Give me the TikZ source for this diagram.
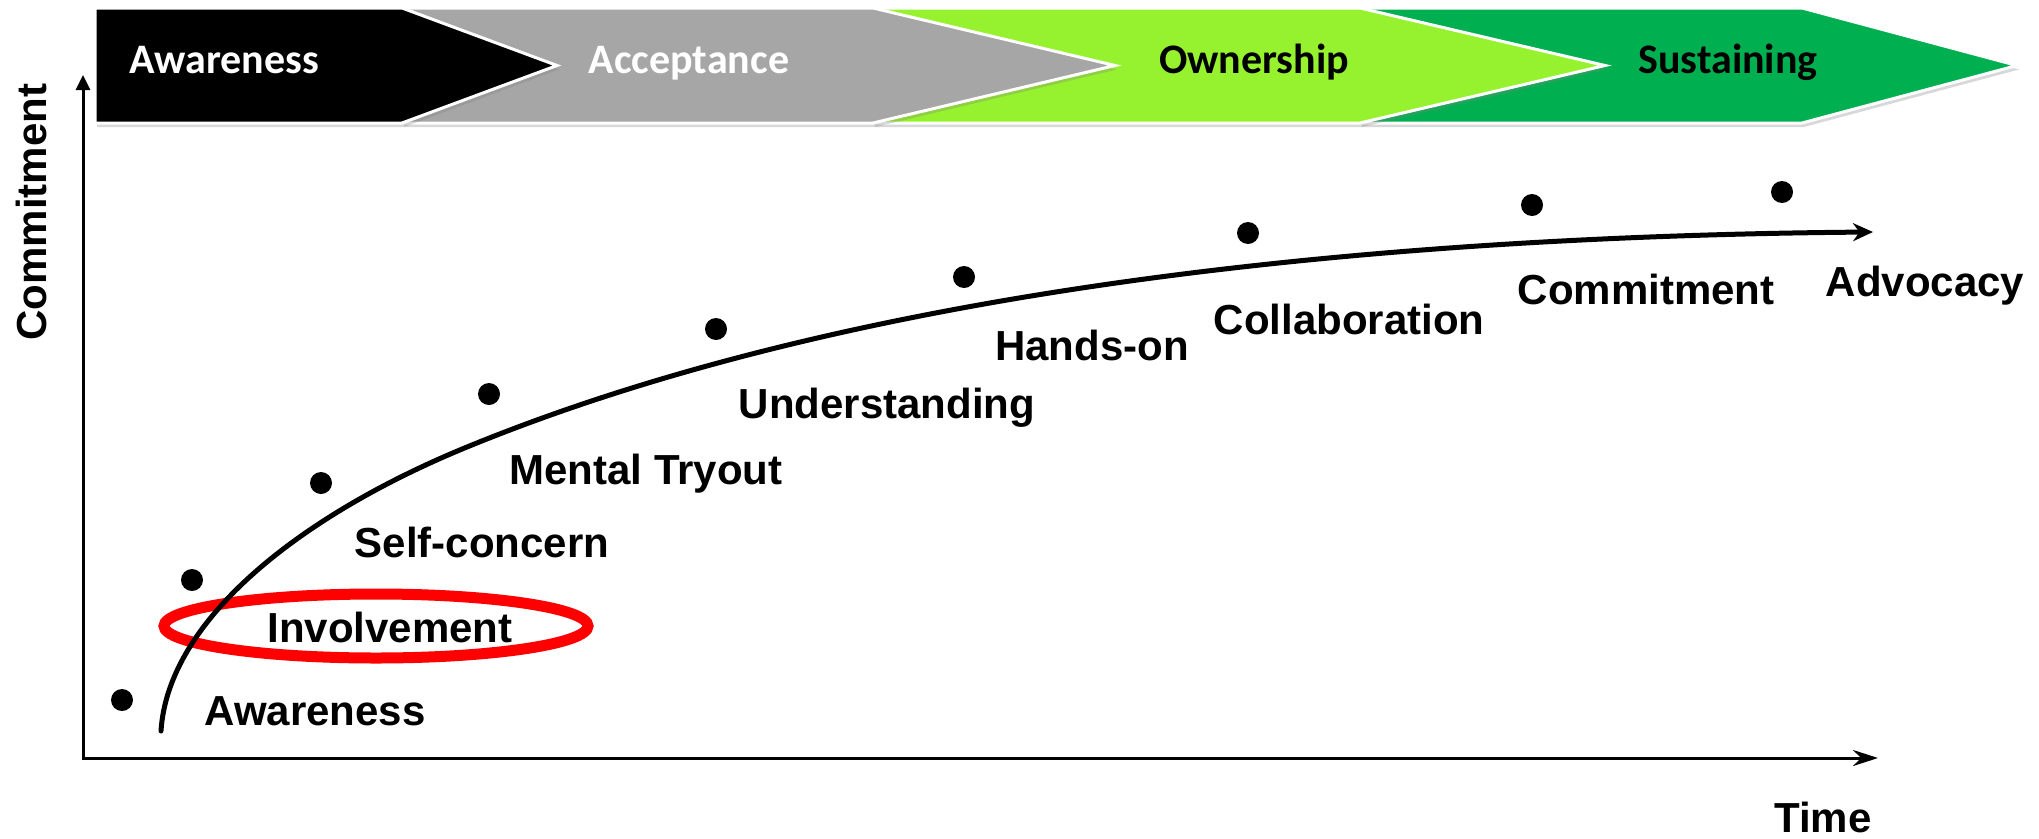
\documentclass[tikz,border=0pt]{standalone}
\usepackage{fontspec}
\setmainfont{Liberation Sans}
\newfontfamily\calfont{Carlito}
\usetikzlibrary{arrows.meta,shadows}
\definecolor{chgray}{RGB}{166,166,166}
\definecolor{chlime}{RGB}{150,242,46}
\definecolor{chgreen}{RGB}{0,176,80}
\begin{document}
\begin{tikzpicture}[x=1pt,y=-1pt,
  chev/.style={draw=white,line width=3pt,line join=miter,
    drop shadow={shadow xshift=2pt,shadow yshift=-4pt,opacity=0.3}},
  bantext/.style={font=\calfont\bfseries\fontsize{42}{50}\selectfont,anchor=base,inner sep=0pt},
  lbl/.style={font=\bfseries\fontsize{42}{50}\selectfont,anchor=base,inner sep=0pt},
  dot/.style={circle,fill=black,minimum size=22pt,inner sep=0pt},
  axis/.style={line width=3pt,line join=miter}]
\useasboundingbox (0,0) rectangle (2039,838);
\fill[white] (0,0) rectangle (2039,838);

% banner chevrons (drawn back to front)
\path[chev,fill=chgreen] (1360,8) -- (1802,8) -- (2017,65.5) -- (1802,123) -- (1360,123) -- cycle;
\path[chev,fill=chlime] (873,8) -- (1360,8) -- (1605,65.5) -- (1360,123) -- (873,123) -- cycle;
\path[chev,fill=chgray] (402,8) -- (873,8) -- (1115,65.5) -- (873,123) -- (402,123) -- cycle;
\path[chev,fill=black] (95,8) -- (402,8) -- (557,65.5) -- (402,123) -- (95,123) -- cycle;

\node[bantext,text=white] (b1) at (224,73) {Awareness};
\node[bantext,text=white] (b2) at (689,73) {Acceptance};
\node[bantext,text=black] (b3) at (1254,73) {Ownership};
\node[bantext,text=black] (b4) at (1728,73) {Sustaining};

% axes
\coordinate (O) at (83,758);
\coordinate (Y) at (83,75);
\coordinate (X) at (1878,758);
\draw[axis,{Triangle[length=15pt,width=14pt]}-{Stealth[length=25pt,width=16pt]}] (Y) -- (O) -- (X);
\node[font=\bfseries\fontsize{42}{50}\selectfont,rotate=90,inner sep=0pt] (ylab) at (31,212) {Commitment};
\node[lbl] (xlab) at (1823,832) {Time};

% red highlight
\draw[red,line width=11pt] (376,626) ellipse [x radius=212pt, y radius=32pt];

% curve
\coordinate (c0) at (161,731);
\coordinate (c1) at (467,447);
\coordinate (c2) at (1873,232);
\draw[line width=5pt,line cap=round,-{Stealth[length=20pt,width=18pt]}]
  (c0) .. controls (168,620) and (300,515.5) .. (c1)
       .. controls (867,283) and (1400,236) .. (c2);

% dots
\node[dot] (d1) at (122,700) {};
\node[dot] (d2) at (192,580) {};
\node[dot] (d3) at (321,483) {};
\node[dot] (d4) at (489,394) {};
\node[dot] (d5) at (716,329) {};
\node[dot] (d6) at (964,277) {};
\node[dot] (d7) at (1248,233) {};
\node[dot] (d8) at (1532,205) {};
\node[dot] (d9) at (1782,192) {};

% stage labels
\node[lbl] (l1) at (315,725) {Awareness};
\node[lbl] (l2) at (390,642) {Involvement};
\node[lbl] (l3) at (482,557) {Self-concern};
\node[lbl] (l4) at (646,484) {Mental Tryout};
\node[lbl] (l5) at (887,418) {Understanding};
\node[lbl] (l6) at (1092,360) {Hands-on};
\node[lbl] (l7) at (1349,334) {Collaboration};
\node[lbl] (l8) at (1646,304) {Commitment};
\node[lbl] (l9) at (1925,296) {Advocacy};
\end{tikzpicture}
\end{document}
